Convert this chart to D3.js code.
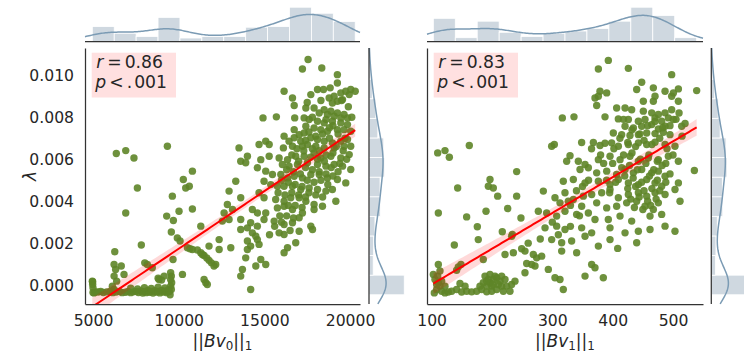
<!DOCTYPE html>
<html>
<head>
<meta charset="utf-8">
<script src="https://cdn.jsdelivr.net/npm/d3@7"></script>
<style>
  body { margin: 0; background: #fff; }
  svg { display: block; font-family: "DejaVu Sans", sans-serif; }
</style>
</head>
<body>
<svg id="chart" width="744" height="353"></svg>
<script>
// ---- data -------------------------------------------------------------
// Observations: [||Bv0||_1, lambda]
const bv0Points = [
  [17550,.01075],[17220,.01030],[18350,.01035],[19260,.01003],[19260,.00963],[16150,.00924],
  [16640,.00892],[17710,.00908],[18100,.00932],[18450,.00932],[18840,.00940],[19070,.00900],
  [19460,.00916],[19750,.00924],[20040,.00932],[20300,.00924],[19950,.00908],[19260,.00876],
  [19560,.00884],[18780,.00892],[18970,.00868],[16740,.00856],[17420,.00844],[17900,.00844],
  [18490,.00836],[18880,.00829],[19260,.00821],[19650,.00813],[19850,.00797],[19460,.00797],
  [19070,.00805],[18680,.00813],[14920,.00797],[15700,.00802],[16770,.00797],[17320,.00797],
  [17610,.00789],[18100,.00781],[18490,.00773],[18970,.00781],[19460,.00773],[19850,.00765],
  [17420,.00757],[17900,.00749],[18290,.00741],[18680,.00733],[19260,.00741],[19650,.00741],
  [20040,.00733],[16740,.00741],[17030,.00717],[17320,.00725],[16150,.00710],[16440,.00686],
  [16740,.00702],[17120,.00686],[17710,.00702],[18100,.00694],[18490,.00686],[18970,.00678],
  [19460,.00686],[19850,.00694],[14690,.00670],[15080,.00686],[15280,.00670],[16110,.00654],
  [16640,.00662],[17220,.00662],[17510,.00670],[18000,.00662],[18490,.00654],[19070,.00654],
  [19650,.00662],[20040,.00662],[13520,.00654],[14010,.00614],[13620,.00590],[13910,.00583],
  [14790,.00598],[15280,.00614],[15860,.00606],[16350,.00598],[16830,.00614],[17320,.00614],
  [17900,.00630],[18290,.00606],[18880,.00614],[19460,.00606],[19950,.00622],[16050,.00575],
  [16440,.00567],[16930,.00575],[17510,.00583],[18100,.00575],[18590,.00567],[19070,.00575],
  [19560,.00567],[20040,.00551],[10800,.00543],[10270,.00503],[10620,.00471],[10410,.00463],
  [14590,.00559],[15080,.00543],[15470,.00527],[15960,.00527],[16350,.00511],[16740,.00519],
  [17220,.00511],[17710,.00527],[18200,.00527],[18680,.00511],[19260,.00503],[19750,.00487],
  [13330,.00495],[14980,.00495],[15370,.00479],[15760,.00471],[16150,.00471],[16640,.00471],
  [17120,.00456],[17610,.00463],[18100,.00456],[18590,.00448],[18970,.00456],[12940,.00448],
  [13620,.00416],[14690,.00440],[14980,.00416],[15660,.00408],[16150,.00400],[16540,.00416],
  [17030,.00416],[17420,.00400],[17900,.00384],[18390,.00376],[19170,.00400],[9630,.00424],
  [7590,.00463],[6910,.00344],[10020,.00352],[10800,.00363],[12840,.00384],[13140,.00360],
  [12650,.00344],[14300,.00360],[14590,.00344],[15080,.00344],[15760,.00368],[16150,.00376],
  [16640,.00360],[17220,.00344],[17900,.00360],[9300,.00329],[9690,.00308],[11290,.00281],
  [12550,.00305],[12940,.00313],[13620,.00313],[14200,.00297],[14590,.00281],[14980,.00313],
  [15570,.00305],[16150,.00289],[16640,.00297],[17030,.00321],[17710,.00281],[17810,.00265],
  [9570,.00253],[9920,.00225],[10080,.00210],[7820,.00191],[12360,.00217],[13620,.00265],
  [14010,.00273],[14300,.00249],[14500,.00233],[14590,.00217],[14010,.00210],[14200,.00186],
  [14690,.00194],[16150,.00241],[15860,.00249],[17030,.00257],[16830,.00202],[16350,.00178],
  [16150,.00154],[6270,.00159],[13040,.00178],[12360,.00170],[11770,.00186],[10510,.00178],
  [10800,.00170],[11090,.00167],[11290,.00154],[11480,.00141],[11640,.00129],[11770,.00118],
  [11910,.00106],[12060,.00091],[12160,.00098],[10660,.00173],[11380,.00146],[13910,.00130],
  [14010,.00170],[14790,.00122],[15080,.00098],[14500,.00091],[13720,.00075],[13620,.00043],
  [14200,-.00021],[8020,.00106],[8170,.00098],[8460,.00083],[9670,.00122],[6650,.00091],
  [6230,.00098],[6320,.00075],[6810,.00051],[6230,.00043],[6380,.00019],[8850,.00027],
  [9150,.00043],[10220,.00051],[11480,.00027],[11580,.00011],[11670,.00003],[9530,.00059],
  [9570,.00043],[9530,.00027],[9590,.00011],[9530,-.00005],[9570,-.00021],[9500,-.00046],
  [6360,.00627],[6910,.00641],[7390,.00606],[9340,.00662],[8800,.00033],[9000,.00024],
  [4960,.00019],[4980,.00003],[5000,-.00013],[5060,-.00037],[6230,-.00021],[6130,-.00005],
  [4980,.00016],[5000,-.00035],[5150,-.00032],[5300,-.00033],[5450,-.00030],[5600,-.00035],
  [5800,-.00032],[6000,-.00030],[6150,-.00036],[6350,-.00033],[6550,-.00030],[6700,-.00036],
  [6900,-.00034],[7050,-.00030],[7200,-.00036],[7350,-.00032],[7500,-.00030],[7650,-.00035],
  [7800,-.00028],[7900,-.00038],[8000,-.00030],[8100,-.00036],[8200,-.00026],[8300,-.00034],
  [8400,-.00030],[8500,-.00038],[8600,-.00027],[8700,-.00033],[8800,-.00030],[8900,-.00037],
  [9000,-.00025],[9100,-.00033],[9200,-.00029],[9300,-.00036],[9400,-.00022],[9450,-.00030],
  [7200,-.00015],[7600,-.00018],[8000,-.00012],[8400,-.00016],[8800,-.00010],[9200,-.00014],
  [17800,.00800],[18200,.00820],[18600,.00790],[19000,.00760],[19300,.00720],[19700,.00700],
  [17600,.00730],[18000,.00710],[18400,.00720],[18800,.00700],[19200,.00660],[19600,.00640],
  [17400,.00690],[17800,.00650],[18200,.00640],[18600,.00620],[19000,.00630],[19400,.00580],
  [19800,.00600],[16900,.00650],[17300,.00640],[17700,.00610],[18100,.00600],[18500,.00590],
  [18900,.00560],[19300,.00540],[16600,.00620],[17000,.00590],[17400,.00560],[17800,.00550],
  [18200,.00540],[18600,.00530],[19000,.00520],[16300,.00550],[16700,.00540],[17100,.00530],
  [17500,.00500],[17900,.00490],[18300,.00500],[18700,.00480],[16000,.00500],[16400,.00490],
  [16800,.00480],[17200,.00470],[17600,.00440],[18000,.00430],[18400,.00420],[15800,.00440],
  [16200,.00430],[16600,.00440],[17000,.00430],[17400,.00420],[16400,.00380],[16800,.00380],
  [17200,.00370],[15900,.00330],[16300,.00330],[16700,.00320],[15600,.00280],[16000,.00300],
  [16500,.00260],[15300,.00240],[18800,.00750],[19900,.00850],[20100,.00800],[19500,.00880],
  [18300,.00880],[17500,.00870]
];

// Observations: [||Bv1||_1, lambda]
const bv1Points = [
  [392.8,.01071],[376.3,.01030],[426.0,.01033],[497.8,.01003],[448.1,.00967],[439.8,.00932],
  [467.4,.00940],[486.8,.00924],[508.9,.00935],[539.2,.00927],[379.0,.00924],[390.1,.00916],
  [370.7,.00892],[376.3,.00900],[373.5,.00856],[450.8,.00876],[467.4,.00876],[470.2,.00900],
  [497.8,.00900],[500.6,.00916],[508.9,.00876],[406.6,.00844],[420.5,.00844],[431.5,.00836],
  [450.8,.00829],[464.7,.00821],[475.7,.00813],[486.8,.00821],[497.8,.00836],[316.6,.00797],
  [335.9,.00802],[387.3,.00802],[409.4,.00792],[426.0,.00789],[442.6,.00781],[453.6,.00789],
  [470.2,.00797],[481.2,.00781],[492.3,.00797],[500.6,.00789],[420.5,.00757],[434.3,.00749],
  [448.1,.00757],[464.7,.00765],[475.7,.00744],[486.8,.00757],[514.4,.00757],[348.6,.00680],
  [368.0,.00680],[387.3,.00676],[401.1,.00725],[414.9,.00717],[428.7,.00713],[442.6,.00717],
  [456.4,.00725],[470.2,.00722],[484.0,.00728],[495.0,.00717],[379.0,.00665],[398.3,.00678],
  [409.4,.00662],[426.0,.00670],[442.6,.00678],[456.4,.00670],[470.2,.00681],[486.8,.00670],
  [503.3,.00662],[298.9,.00662],[303.3,.00670],[110.0,.00630],[122.1,.00641],[129.3,.00609],
  [162.4,.00665],[329.3,.00617],[343.1,.00590],[354.2,.00575],[376.3,.00598],[395.6,.00614],
  [412.2,.00598],[428.7,.00614],[442.6,.00590],[459.1,.00606],[475.7,.00598],[492.3,.00614],
  [508.9,.00590],[323.8,.00590],[240.9,.00541],[345.9,.00551],[359.7,.00559],[373.5,.00535],
  [390.1,.00543],[406.6,.00527],[420.5,.00551],[434.3,.00535],[448.1,.00551],[464.7,.00535],
  [475.7,.00543],[486.8,.00519],[535.4,.00546],[318.2,.00495],[334.8,.00503],[354.2,.00487],
  [376.3,.00495],[395.6,.00479],[409.4,.00503],[426.0,.00487],[442.6,.00479],[456.4,.00503],
  [470.2,.00487],[481.2,.00471],[508.9,.00487],[196.7,.00503],[194.0,.00471],[202.2,.00463],
  [143.1,.00463],[285.1,.00448],[304.4,.00416],[321.0,.00440],[334.8,.00408],[351.4,.00424],
  [365.2,.00432],[381.8,.00440],[395.6,.00456],[409.4,.00416],[426.0,.00432],[442.6,.00440],
  [456.4,.00424],[470.2,.00440],[486.8,.00432],[503.3,.00456],[209.4,.00424],[240.9,.00424],
  [312.7,.00392],[326.5,.00400],[348.6,.00376],[373.5,.00392],[390.1,.00368],[406.6,.00376],
  [423.2,.00392],[439.8,.00400],[453.6,.00376],[467.4,.00360],[475.7,.00392],[511.6,.00400],
  [111.1,.00344],[190.1,.00352],[226.0,.00365],[276.8,.00352],[290.6,.00344],[307.2,.00329],
  [321.0,.00352],[340.3,.00337],[359.7,.00344],[370.7,.00313],[392.8,.00313],[412.2,.00329],
  [431.5,.00305],[461.9,.00329],[481.2,.00337],[158.0,.00325],[175.7,.00278],[217.1,.00254],
  [232.6,.00233],[287.9,.00273],[307.2,.00281],[321.0,.00265],[348.6,.00273],[365.2,.00249],
  [395.6,.00273],[420.5,.00249],[442.6,.00257],[461.9,.00265],[486.8,.00281],[503.3,.00257],
  [298.9,.00217],[315.5,.00202],[332.0,.00210],[354.2,.00233],[376.3,.00186],[395.6,.00217],
  [408.3,.00175],[439.8,.00202],[137.6,.00191],[177.3,.00217],[233.7,.00241],[249.2,.00173],
  [254.7,.00162],[268.5,.00146],[274.0,.00130],[282.3,.00138],[221.6,.00146],[235.4,.00154],
  [185.6,.00122],[144.2,.00087],[148.6,.00098],[141.4,.00071],[111.1,.00098],[113.8,.00067],
  [110.0,.00043],[265.8,.00098],[271.3,.00091],[254.7,.00059],[257.5,.00103],[293.4,.00075],
  [315.5,.00162],[340.3,.00154],[365.2,.00098],[370.7,.00083],[354.2,.00043],[384.5,.00035],
  [304.4,.00035],[312.7,.00027],[318.2,-.00021],
  [102.8,.00051],[105.5,.00027],[111.1,.00011],[113.8,-.00005],[108.3,-.00021],[116.6,-.00029],
  [122.1,-.00037],[127.6,-.00033],[133.2,-.00029],[141.4,-.00021],[149.7,-.00033],[158.0,-.00029],
  [166.3,-.00032],[174.6,-.00029],[182.9,-.00021],[191.2,-.00005],[196.7,.00011],[202.2,.00027],
  [207.7,.00035],[213.3,.00019],[216.0,-.00005],[207.7,-.00021],[199.5,-.00029],[191.2,-.00032],
  [224.3,-.00005],[232.6,.00003],[238.1,.00019],[229.8,-.00029],[218.8,-.00029],[155.3,-.00005],
  [147.0,.00008],[108.3,.00003],[104.4,-.00037],[116.6,.00019],[122.1,-.00005],[188.4,.00043],
  [196.7,.00051],[205.0,.00043],[193.9,.00027],[210.5,.00003],[199.5,-.00005],[185.6,.00011],
  [221.6,.00027],[191.2,.00019],[202.2,.00003],[216.0,.00043],[180.1,-.00005],
  [412,.0070],[425,.0068],[438,.0066],[452,.0069],[465,.0067],[478,.0070],[490,.0065],
  [418,.0062],[432,.0063],[446,.0060],[460,.0062],[474,.0059],[488,.0058],[500,.0062],
  [415,.0056],[428,.0057],[441,.0055],[455,.0058],[468,.0055],[482,.0057],[495,.0053],
  [420,.0052],[434,.0051],[448,.0049],[461,.0052],[474,.0050],[488,.0049],[425,.0046],
  [438,.0047],[452,.0045],[465,.0046],[478,.0045],[430,.0041],[444,.0042],[458,.0040],
  [472,.0041],[436,.0037],[450,.0036],[463,.0038],[400,.0058],[405,.0049],[395,.0044],
  [385,.0058],[390,.0050],[458,.0076],[470,.0078],[483,.0075],[495,.0076],[505,.0079],
  [445,.0072],[432,.0074],[510,.0082],[515,.0071],[520,.0077],[418,.0079],[402,.0065],
  [380,.0062],[365,.0065],[360,.0050],[350,.0047],[340,.0045],[330,.0038],[345,.0033],
  [300,.0030],[310,.0024],[330,.0028],[280,.0022],[260,.0020],[248,.0032]
];

// Marginal histogram counts (12 equal bins between each variable's min and max)
const bv0BinCounts    = [47, 26, 16, 76, 11, 16, 16, 45, 47, 108, 89, 63];
const bv1BinCounts    = [73, 12, 64, 29, 16, 26, 33, 41, 64, 108, 82, 12];
const lambdaBinCounts = [160, 19, 21, 27, 52, 50, 71, 67, 40, 31, 15, 7];

// Correlation results
const rValues = ["0.86", "0.83"];
const pValues = [".001", ".001"];

// Axes
const bv0Domain = [4533, 20580];
const bv1Domain = [92.3, 549.7];
const lambdaDomain = [-0.0009, 0.0113];
const bv0Ticks = [5000, 10000, 15000, 20000];
const bv1Ticks = [100, 200, 300, 400, 500];
const lambdaTicks = [0, 0.002, 0.004, 0.006, 0.008, 0.010];

// ---- styling ----------------------------------------------------------
const POINT_FILL = "rgb(94,133,40)";
const HIST_FILL = "#cfd8e0";
const KDE_STROKE = "#7b9bb4";
const SPINE = "#333";
const TEXT = "#262626";
const TICK_FONT = 15.6;
const LABEL_FONT = 17;

const svg = d3.select("#chart");

const layout = { top: 48, bottom: 304, margTop: 5.5, margBase: 41.5, margWidth: 37 };

const panels = [
  { points: bv0Points, xDomain: bv0Domain, xTicks: bv0Ticks, xCounts: bv0BinCounts,
    r: rValues[0], p: pValues[0], sub: "0",
    left: 85, right: 360, margLeft: 369, showY: true },
  { points: bv1Points, xDomain: bv1Domain, xTicks: bv1Ticks, xCounts: bv1BinCounts,
    r: rValues[1], p: pValues[1], sub: "1",
    left: 427, right: 703, margLeft: 711.3, showY: false }
];

const lambdaAll = bv0Points.concat(bv1Points).map(d => d[1]);
const lambdaExtent = d3.extent(lambdaAll);

// Gaussian KDE of binned counts, scaled to the count axis
function binnedKde(counts, lo, hi, grid) {
  const k = counts.length, w = (hi - lo) / k;
  const centers = counts.map((_, i) => lo + (i + 0.5) * w);
  const n = d3.sum(counts);
  const mean = d3.sum(counts, (c, i) => c * centers[i]) / n;
  const variance = d3.sum(counts, (c, i) => c * (centers[i] - mean) ** 2) / (n - 1) + w * w / 12;
  const bw = Math.sqrt(variance) * Math.pow(n, -0.2);
  const kbw = Math.sqrt(Math.max(bw * bw - w * w / 12, bw * bw * 0.25));
  const norm = 1 / (kbw * Math.sqrt(2 * Math.PI));
  return grid.map(x => [x, w * norm * d3.sum(counts, (c, i) =>
    c * Math.exp(-0.5 * ((x - centers[i]) / kbw) ** 2))]);
}

function linearFit(pts) {
  const n = pts.length;
  const mx = d3.mean(pts, d => d[0]), my = d3.mean(pts, d => d[1]);
  let sxx = 0, sxy = 0;
  for (const [x, y] of pts) { sxx += (x - mx) ** 2; sxy += (x - mx) * (y - my); }
  const slope = sxy / sxx, intercept = my - slope * mx;
  let sse = 0;
  for (const [x, y] of pts) sse += (y - intercept - slope * x) ** 2;
  const s = Math.sqrt(sse / (n - 2));
  return { slope, intercept, predict: x => intercept + slope * x,
           se: x => s * Math.sqrt(1 / n + (x - mx) ** 2 / sxx) };
}

const yScale = d3.scaleLinear().domain(lambdaDomain).range([layout.bottom, layout.top]);

panels.forEach((P, pi) => {
  const g = svg.append("g");
  const x = d3.scaleLinear().domain(P.xDomain).range([P.left, P.right]);
  const xExt = d3.extent(P.points, d => d[0]);

  const clipId = "clip" + pi;
  svg.append("clipPath").attr("id", clipId).append("rect")
    .attr("x", P.left).attr("y", layout.top)
    .attr("width", P.right - P.left).attr("height", layout.bottom - layout.top);

  // --- top marginal: histogram + KDE of x
  {
    const k = P.xCounts.length, w = (xExt[1] - xExt[0]) / k;
    const grid = d3.range(0, 201).map(i => P.xDomain[0] + i * (P.xDomain[1] - P.xDomain[0]) / 200);
    const kde = binnedKde(P.xCounts, xExt[0], xExt[1], grid);
    const maxC = Math.max(d3.max(P.xCounts), d3.max(kde, d => d[1]));
    const hy = d3.scaleLinear().domain([0, maxC * 1.05]).range([layout.margBase, layout.margTop]);
    const mg = g.append("g");
    mg.selectAll("rect").data(P.xCounts).join("rect")
      .attr("x", (c, i) => x(xExt[0] + i * w))
      .attr("width", (c, i) => x(xExt[0] + (i + 1) * w) - x(xExt[0] + i * w))
      .attr("y", c => hy(c))
      .attr("height", c => layout.margBase - hy(c))
      .attr("fill", HIST_FILL).attr("stroke", "#fff").attr("stroke-width", 0.8);
    mg.append("path").datum(kde)
      .attr("d", d3.line().x(d => x(d[0])).y(d => hy(d[1])))
      .attr("fill", "none").attr("stroke", KDE_STROKE).attr("stroke-width", 1.5);
    mg.append("line").attr("x1", P.left).attr("x2", P.right)
      .attr("y1", layout.margBase).attr("y2", layout.margBase)
      .attr("stroke", SPINE).attr("stroke-width", 1.25);
  }

  // --- right marginal: histogram + KDE of lambda
  {
    const k = lambdaBinCounts.length, w = (lambdaExtent[1] - lambdaExtent[0]) / k;
    const grid = d3.range(0, 201).map(i => lambdaDomain[0] + i * (lambdaDomain[1] - lambdaDomain[0]) / 200);
    const kde = binnedKde(lambdaBinCounts, lambdaExtent[0], lambdaExtent[1], grid);
    const maxC = Math.max(d3.max(lambdaBinCounts), d3.max(kde, d => d[1]));
    const hx = d3.scaleLinear().domain([0, maxC * 1.05]).range([P.margLeft, P.margLeft + layout.margWidth]);
    const mg = g.append("g");
    mg.selectAll("rect").data(lambdaBinCounts).join("rect")
      .attr("x", P.margLeft)
      .attr("width", c => hx(c) - P.margLeft)
      .attr("y", (c, i) => yScale(lambdaExtent[0] + (i + 1) * w))
      .attr("height", (c, i) => yScale(lambdaExtent[0] + i * w) - yScale(lambdaExtent[0] + (i + 1) * w))
      .attr("fill", HIST_FILL).attr("stroke", "#fff").attr("stroke-width", 0.8);
    mg.append("path").datum(kde)
      .attr("d", d3.line().x(d => hx(d[1])).y(d => yScale(d[0])))
      .attr("fill", "none").attr("stroke", KDE_STROKE).attr("stroke-width", 1.5);
    mg.append("line").attr("x1", P.margLeft).attr("x2", P.margLeft)
      .attr("y1", layout.top).attr("y2", layout.bottom)
      .attr("stroke", SPINE).attr("stroke-width", 1.25);
  }

  // --- joint scatter + regression
  const main = g.append("g").attr("clip-path", `url(#${clipId})`);
  main.selectAll("circle").data(P.points).join("circle")
    .attr("cx", d => x(d[0])).attr("cy", d => yScale(d[1])).attr("r", 3.7)
    .attr("fill", POINT_FILL).attr("fill-opacity", 0.9);

  const fit = linearFit(P.points);
  const xs = d3.range(0, 101).map(i => xExt[0] + i * (xExt[1] - xExt[0]) / 100);
  main.append("path").datum(xs)
    .attr("d", d3.area().x(v => x(v))
      .y0(v => yScale(fit.predict(v) - 1.96 * fit.se(v)))
      .y1(v => yScale(fit.predict(v) + 1.96 * fit.se(v))))
    .attr("fill", "rgba(255,0,0,0.15)");
  main.append("path").datum(xs)
    .attr("d", d3.line().x(v => x(v)).y(v => yScale(fit.predict(v))))
    .attr("fill", "none").attr("stroke", "#ff0000").attr("stroke-width", 2);

  // axes
  const xAxis = g.append("g").attr("transform", `translate(0,${layout.bottom})`)
    .call(d3.axisBottom(x).tickValues(P.xTicks).tickFormat(d3.format("d"))
      .tickSize(0).tickSizeOuter(0).tickPadding(11));
  xAxis.select(".domain").attr("stroke", SPINE).attr("stroke-width", 1.25);
  xAxis.selectAll("text").attr("font-size", TICK_FONT).attr("font-family", "DejaVu Sans").attr("fill", TEXT);

  const yAxis = g.append("g").attr("transform", `translate(${P.left},0)`)
    .call(d3.axisLeft(yScale).tickValues(lambdaTicks).tickFormat(d3.format(".3f"))
      .tickSize(0).tickSizeOuter(0).tickPadding(11));
  yAxis.select(".domain").attr("stroke", SPINE).attr("stroke-width", 1.25);
  yAxis.selectAll("text").attr("font-size", TICK_FONT).attr("font-family", "DejaVu Sans").attr("fill", TEXT);
  if (!P.showY) yAxis.selectAll(".tick").remove();

  // x label: ||Bv_k||_1
  const cx = (P.left + P.right) / 2;
  const xl = g.append("text").attr("x", cx).attr("y", 346.5).attr("text-anchor", "middle")
    .attr("font-size", LABEL_FONT).attr("fill", TEXT);
  xl.append("tspan").text("||");
  xl.append("tspan").attr("font-style", "italic").text("Bv");
  xl.append("tspan").attr("font-size", LABEL_FONT * 0.7).attr("dy", 3).text(P.sub);
  xl.append("tspan").attr("dy", -3).text("||");
  xl.append("tspan").attr("font-size", LABEL_FONT * 0.7).attr("dy", 3).text("1");

  // statistics box
  const bx = P.left + 6.7;
  g.append("rect").attr("x", bx).attr("y", 52.7).attr("width", 84.3).attr("height", 44.8)
    .attr("fill", "rgb(255,224,224)");
  const t1 = g.append("text").attr("y", 68).attr("font-size", 17.2).attr("fill", TEXT);
  t1.append("tspan").attr("x", bx + 4.5).attr("font-style", "italic").text("r");
  t1.append("tspan").attr("x", bx + 15.5).text("=");
  t1.append("tspan").attr("x", bx + 33).text(P.r);
  const t2 = g.append("text").attr("y", 88.3).attr("font-size", 17.2).attr("fill", TEXT);
  t2.append("tspan").attr("x", bx + 3.5).attr("font-style", "italic").text("p");
  t2.append("tspan").attr("x", bx + 17.5).text("<");
  t2.append("tspan").attr("x", bx + 35).text(".");
  t2.append("tspan").attr("x", bx + 42.5).text(P.p.replace(".", ""));
});

// y label
svg.append("text").attr("transform", "translate(36,176) rotate(-90)")
  .attr("text-anchor", "middle").attr("font-size", LABEL_FONT).attr("fill", TEXT)
  .attr("font-style", "italic").text("λ");
</script>
</body>
</html>
